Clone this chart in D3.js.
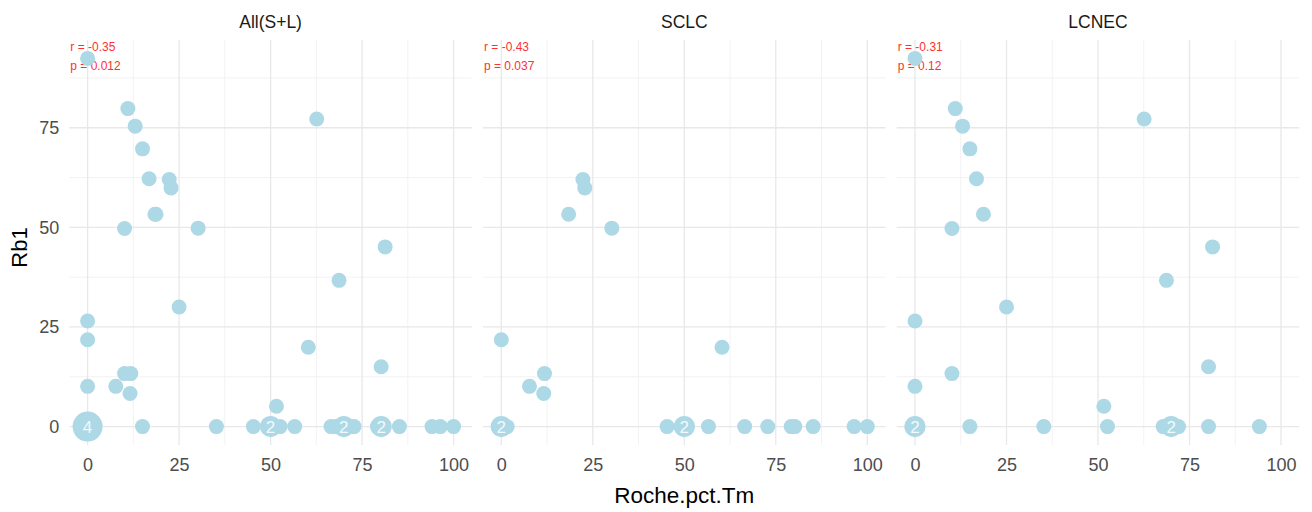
<!DOCTYPE html>
<html>
<head>
<meta charset="utf-8">
<script src="https://cdn.jsdelivr.net/npm/d3@7"></script>
<style>
  body { margin: 0; background: #fff; }
  svg text { font-family: "Liberation Sans", Arial, sans-serif; }
</style>
</head>
<body>
<div id="chart"></div>
<script>
// facet titles and correlation labels
const panelNames = ["All(S+L)", "SCLC", "LCNEC"];
const corrR = ["r = -0.35", "r = -0.43", "r = -0.31"];
const corrP = ["p = 0.012", "p = 0.037", "p = 0.12"];

// SCLC points (Roche.pct.Tm, Rb1)
const sclcX = [22.3, 22.8, 18.4, 30.2, 0, 60.3, 11.8, 7.7, 11.6,
  0, 0, 1.6, 45.3, 50, 50, 56.6, 66.5, 72.8, 79.2, 80.2, 85.2, 96.4, 100];
const sclcY = [62.0, 59.9, 53.3, 49.8, 21.8, 19.9, 13.3, 10.1, 8.3,
  0, 0, 0, 0, 0, 0, 0, 0, 0, 0, 0, 0, 0, 0];

// LCNEC points
const lcnecX = [0, 11.0, 13.0, 15.0, 16.8, 18.7, 10.1, 62.6, 81.3, 68.7, 25.0, 0, 10.1, 80.2, 0, 51.6,
  0, 0, 15.0, 35.2, 52.6, 67.8, 70, 70, 72.0, 80.2, 94.1];
const lcnecY = [92.4, 79.8, 75.4, 69.7, 62.2, 53.3, 49.7, 77.2, 45.1, 36.7, 30.0, 26.5, 13.3, 15.0, 10.1, 5.1,
  0, 0, 0, 0, 0, 0, 0, 0, 0, 0, 0];

const xTicks = [0, 25, 50, 75, 100];
const yTicks = [0, 25, 50, 75];

// group identical points like geom_count
function countPoints(xs, ys){
  let m = new Map();
  xs.forEach((x, i) => {
    let k = x + "_" + ys[i];
    if(!m.has(k)) m.set(k, {x: x, y: ys[i], n: 0});
    m.get(k).n++;
  });
  return Array.from(m.values());
}

const panels = [
  countPoints(sclcX.concat(lcnecX), sclcY.concat(lcnecY)),
  countPoints(sclcX, sclcY),
  countPoints(lcnecX, lcnecY)
];

const W = 1312, H = 512;
const padLeft = 69.3, padTop = 40, pw = 402.6, gap = 11.1, ph = 405;

const svg = d3.select("#chart").append("svg")
  .attr("width", W).attr("height", H);

const allY = sclcY.concat(lcnecY);
const yMax = d3.max(allY), yMin = d3.min(allY);
const yPad = (yMax - yMin) * 0.05;

const x = d3.scaleLinear().domain([-5, 105]).range([0, pw]);
const y = d3.scaleLinear().domain([yMin - yPad, yMax + yPad]).range([ph, 0]);
const r = d3.scaleSqrt().domain([0, 4]).range([0, 15]);

const minorX = [12.5, 37.5, 62.5, 87.5];
const minorY = [12.5, 37.5, 62.5, 87.5];

panels.forEach((pts, i) => {
  let g = svg.append("g")
    .attr("transform", "translate(" + (padLeft + i * (pw + gap)) + "," + padTop + ")");

  // grid
  g.selectAll(".minx").data(minorX).enter().append("line")
    .attr("x1", d => x(d)).attr("x2", d => x(d)).attr("y1", 0).attr("y2", ph)
    .attr("stroke", "#f2f2f2").attr("stroke-width", 1);
  g.selectAll(".miny").data(minorY).enter().append("line")
    .attr("y1", d => y(d)).attr("y2", d => y(d)).attr("x1", 0).attr("x2", pw)
    .attr("stroke", "#f2f2f2").attr("stroke-width", 1);
  g.selectAll(".majx").data(xTicks).enter().append("line")
    .attr("x1", d => x(d)).attr("x2", d => x(d)).attr("y1", 0).attr("y2", ph)
    .attr("stroke", "#e8e8e8").attr("stroke-width", 1.3);
  g.selectAll(".majy").data(yTicks).enter().append("line")
    .attr("y1", d => y(d)).attr("y2", d => y(d)).attr("x1", 0).attr("x2", pw)
    .attr("stroke", "#e8e8e8").attr("stroke-width", 1.3);

  // x axis labels
  let xa = g.append("g")
    .attr("transform", "translate(0," + ph + ")")
    .call(d3.axisBottom(x).tickValues(xTicks).tickSize(0).tickPadding(13));
  xa.select(".domain").remove();
  xa.selectAll("text").attr("font-size", 18).attr("fill", "#4d4d4d")
    .style("font-family", "'Liberation Sans', Arial, sans-serif");

  // y axis labels only on the first panel
  if(i === 0){
    let ya = g.append("g")
      .call(d3.axisLeft(y).tickValues(yTicks).tickSize(0).tickPadding(10));
    ya.select(".domain").remove();
    ya.selectAll("text").attr("font-size", 18).attr("fill", "#4d4d4d")
      .style("font-family", "'Liberation Sans', Arial, sans-serif");
  }

  // panel title
  g.append("text")
    .attr("x", pw / 2).attr("y", -12)
    .attr("text-anchor", "middle")
    .attr("font-size", 17.5).attr("fill", "#1a1a1a")
    .text(panelNames[i]);

  // correlation text
  g.append("text").attr("x", 1).attr("y", 11)
    .attr("font-size", 12).attr("fill", "#ff3030")
    .text(corrR[i]);
  g.append("text").attr("x", 1).attr("y", 30)
    .attr("font-size", 12).attr("fill", "#ff3030")
    .text(corrP[i]);

  // points
  g.selectAll(".pt").data(pts).enter().append("circle")
    .attr("cx", d => x(d.x)).attr("cy", d => y(d.y))
    .attr("r", d => r(d.n))
    .attr("fill", "#add8e6");

  g.selectAll(".lab").data(pts.filter(d => d.n > 1)).enter().append("text")
    .attr("x", d => x(d.x)).attr("y", d => y(d.y))
    .attr("dy", "0.36em")
    .attr("text-anchor", "middle")
    .attr("font-size", 17).attr("fill", "#f4f9fb")
    .text(d => d.n);
});

// axis titles
svg.append("text")
  .attr("x", padLeft + 1.5 * pw + gap).attr("y", 503)
  .attr("text-anchor", "middle")
  .attr("font-size", 22.5).attr("fill", "#000")
  .text("Roche.pct.Tm");

svg.append("text")
  .attr("transform", "translate(27," + (padTop + ph / 2 + 5) + ") rotate(-90)")
  .attr("text-anchor", "middle")
  .attr("font-size", 22).attr("fill", "#000")
  .text("Rb1");
</script>
</body>
</html>
